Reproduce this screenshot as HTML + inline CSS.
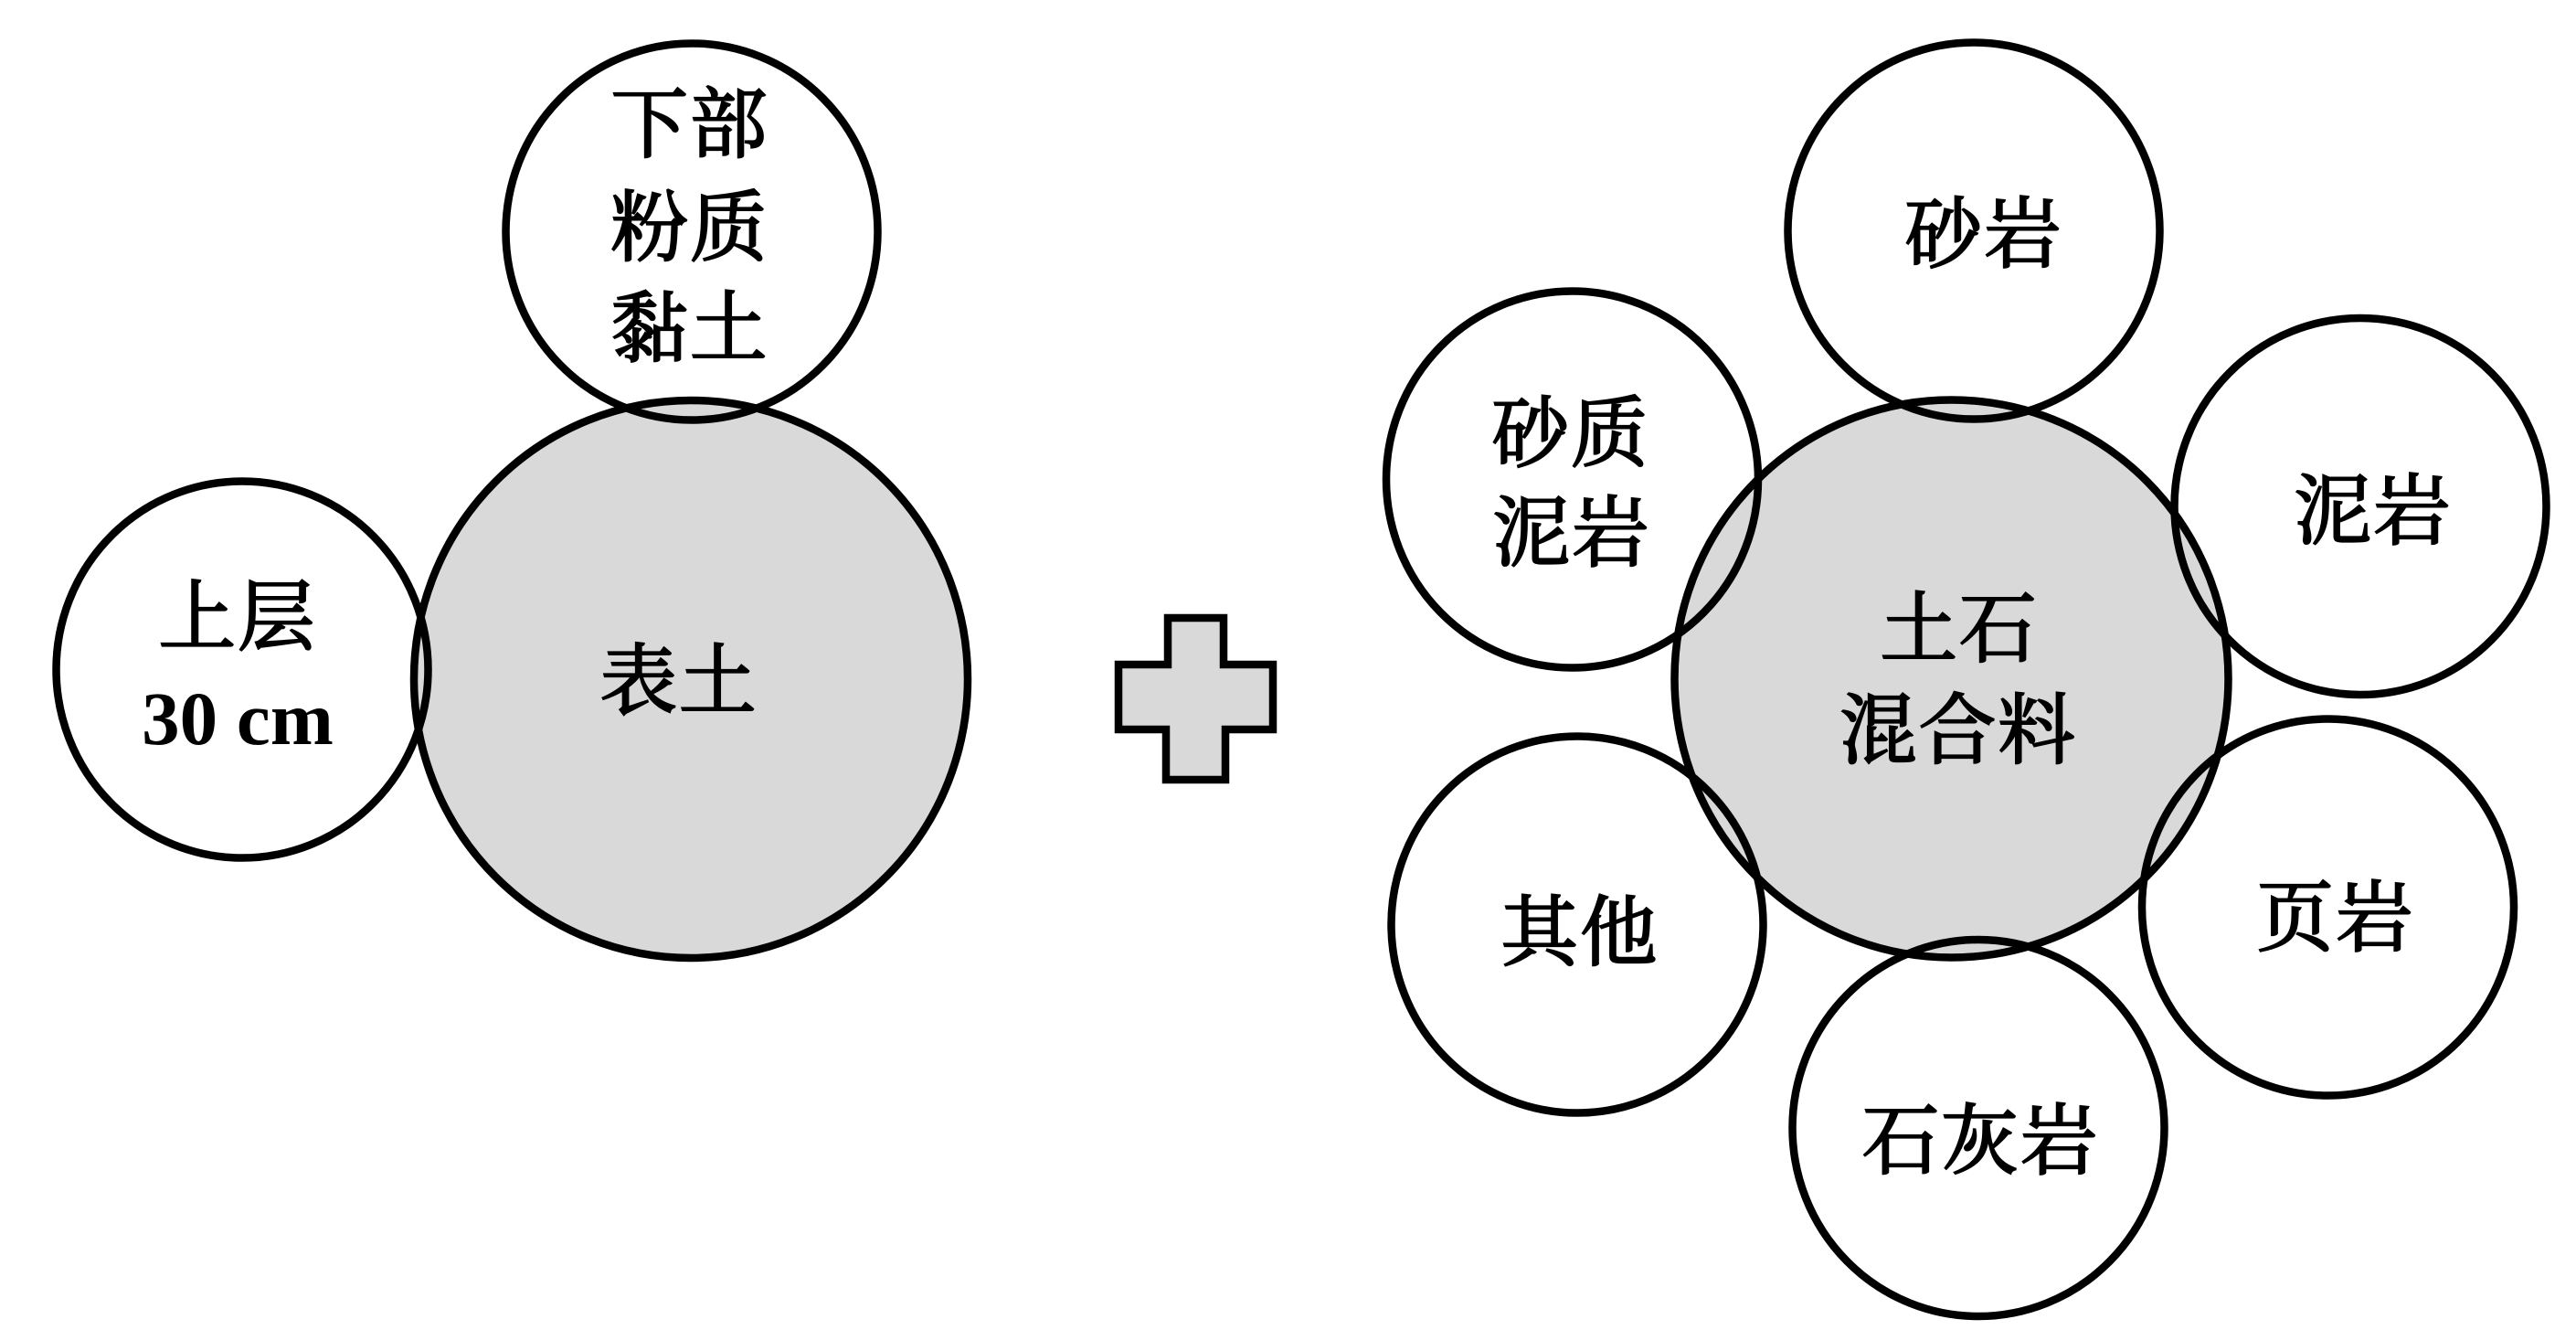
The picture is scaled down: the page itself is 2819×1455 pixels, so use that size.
<!DOCTYPE html>
<html lang="zh">
<head>
<meta charset="utf-8">
<style>
html,body{margin:0;padding:0;background:#fff;width:2819px;height:1455px;overflow:hidden}
svg{display:block}
text{font-family:"Liberation Serif","Noto Serif CJK SC",serif;font-weight:400;font-size:84.5px;fill:#000;stroke:#000;stroke-width:2.2px;text-anchor:middle;dominant-baseline:central;letter-spacing:2px}
</style>
</head>
<body>
<svg width="2819" height="1455" viewBox="0 0 2819 1455" xmlns="http://www.w3.org/2000/svg">
<g fill="#d9d9d9" stroke="#000" stroke-width="8.5">
<ellipse cx="756" cy="743" rx="303" ry="305"/>
<ellipse cx="2135.5" cy="742.5" rx="303" ry="305"/>
<polygon points="1278,676 1339,676 1339,727 1393,727 1393,798 1341,798 1341,853 1276,853 1276,798 1224,798 1224,727 1278,727"/>
</g>
<g fill="none" stroke="#000" stroke-width="8.5">
<ellipse cx="757" cy="253.5" rx="203.5" ry="206"/>
<ellipse cx="265" cy="732.5" rx="203.5" ry="206"/>
<ellipse cx="2160" cy="252.5" rx="203.5" ry="206"/>
<ellipse cx="1720.5" cy="524.5" rx="203.5" ry="206"/>
<ellipse cx="2583" cy="554" rx="203.5" ry="206"/>
<ellipse cx="2547.5" cy="992.5" rx="203.5" ry="206"/>
<ellipse cx="1726" cy="1011.5" rx="203.5" ry="206"/>
<ellipse cx="2165" cy="1234" rx="203.5" ry="206"/>
</g>
<text x="755" y="138">下部</text>
<text x="755" y="251">粉质</text>
<text x="755" y="361">黏土</text>
<text x="260" y="677">上层</text>
<text x="260" y="786" style="font-family:'Liberation Serif',serif;font-weight:700;font-size:83px;stroke:none;letter-spacing:0">30 cm</text>
<text x="743" y="747">表土</text>
<text x="2171" y="258">砂岩</text>
<text x="1719" y="476">砂质</text>
<text x="1720" y="585">泥岩</text>
<text x="2597" y="561">泥岩</text>
<text x="2144" y="690">土石</text>
<text x="2143" y="801">混合料</text>
<text x="1729" y="1022">其他</text>
<text x="2556" y="1006">页岩</text>
<text x="2167.5" y="1250">石灰岩</text>
</svg>
</body>
</html>
